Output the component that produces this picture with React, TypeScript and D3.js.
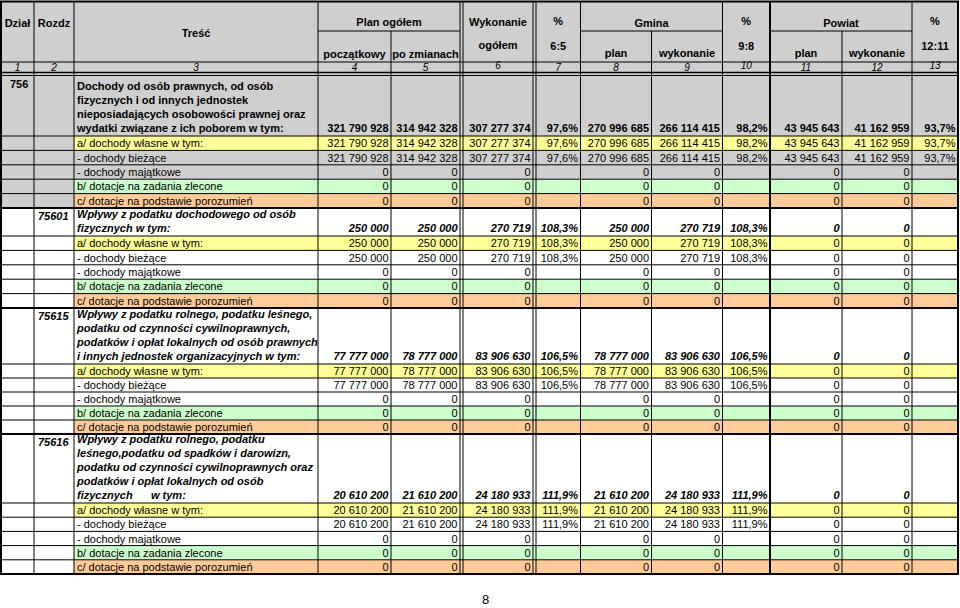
import React from 'react';
import * as d3 from 'd3';

// ---------- DATA ----------
const columnKeys = ['dzial', 'rozdz', 'tresc', 'planPocz', 'planZm', 'wyk', 'pct65', 'gPlan', 'gWyk', 'pct98', 'pPlan', 'pWyk', 'pct1211'];
const columnNumbers = ['1', '2', '3', '4', '5', '6', '7', '8', '9', '10', '11', '12', '13'];
const raisedNumbers = ['6', '10', '13'];

const sectionDzial = ['756', '', '', ''];
const sectionRozdz = ['', '75601', '75615', '75616'];
const sectionTitles = [
  ['Dochody od osób prawnych, od osób', 'fizycznych i od innych jednostek', 'nieposiadających osobowości prawnej oraz', 'wydatki związane z ich poborem w tym:'],
  ['Wpływy z podatku dochodowego od osób', 'fizycznych w tym:'],
  ['Wpływy z podatku rolnego, podatku leśnego,', 'podatku od czynności cywilnoprawnych,', 'podatków i opłat lokalnych od osób prawnych', 'i innych jednostek organizacyjnych w tym:'],
  ['Wpływy z podatku rolnego, podatku', 'leśnego,podatku od spadków i darowizn,', 'podatku od czynności cywilnoprawnych oraz', 'podatków i opłat lokalnych od osób', 'fizycznych      w tym:'],
];
const planPoczatkowy = [321790928, 250000, 77777000, 20610200];
const planPoZmianach = [314942328, 250000, 78777000, 21610200];
const wykonanieOgolem = [307277374, 270719, 83906630, 24180933];
const pct65 = [97.6, 108.3, 106.5, 111.9];
const gminaPlan = [270996685, 250000, 78777000, 21610200];
const gminaWykonanie = [266114415, 270719, 83906630, 24180933];
const pct98 = [98.2, 108.3, 106.5, 111.9];
const powiatPlan = [43945643, 0, 0, 0];
const powiatWykonanie = [41162959, 0, 0, 0];
const pct1211: (number | null)[] = [93.7, null, null, null];

const subRowLabels = ['a/ dochody własne w tym:', '- dochody bieżące', '- dochody majątkowe', 'b/ dotacje na zadania zlecone', 'c/ dotacje na podstawie porozumień'];
const dochodyMajatkowe = [0, 0, 0, 0];
const dotacjeZlecone = [0, 0, 0, 0];
const dotacjePorozumienia = [0, 0, 0, 0];
const pageNumber = '8';

// ---------- LAYOUT ----------
const W = 960;
const H = 608;
const FONT = '"Liberation Sans", Arial, Helvetica, sans-serif';
const GRAY = '#cfcfcf';
const subFills = ['#ffff99', null, null, '#ccffcc', '#ffcc99'];
const mainHeights = [60.5, 28, 56, 69];
const subHeights = [14.4, 14.4, 14, 14.2];
const edgeX = d3.scaleOrdinal<string, number>()
  .domain([...columnKeys, 'end'])
  .range([1, 34, 74, 318, 391, 461.5, 534.5, 580.5, 651.5, 722.5, 770, 842, 912, 958]);
const doubleEdges = ['wyk', 'pct65'];
const headerTop = 1.5, headerSplit = 31, numTop = 62, numBottom = 72.5, bodyTop = 75.5;

const loc = d3.formatLocale({ decimal: ',', thousands: ' ', grouping: [3], currency: ['', ''] });
const fmtInt = loc.format(',d');
const fmtDec = loc.format('.1f');
const fmtPct = (v: number | null) => (v == null ? '' : fmtDec(v) + '%');

function colRight(i: number) {
  const key = i + 1 < columnKeys.length ? columnKeys[i + 1] : 'end';
  const x = edgeX(key);
  return doubleEdges.includes(key) ? x - 1.5 : x;
}
function colLeft(i: number) {
  const key = columnKeys[i];
  const x = edgeX(key);
  return doubleEdges.includes(key) ? x + 1.5 : x;
}
function colCenter(i: number) {
  return (colLeft(i) + colRight(i)) / 2;
}

type Row = { top: number; h: number; kind: 'main' | 'sub'; s: number; sub: number; values: string[] };

function totals(s: number): string[] {
  return [
    fmtInt(planPoczatkowy[s]), fmtInt(planPoZmianach[s]), fmtInt(wykonanieOgolem[s]), fmtPct(pct65[s]),
    fmtInt(gminaPlan[s]), fmtInt(gminaWykonanie[s]), fmtPct(pct98[s]),
    fmtInt(powiatPlan[s]), fmtInt(powiatWykonanie[s]), fmtPct(pct1211[s]),
  ];
}
function zeros(v: number): string[] {
  const z = fmtInt(v);
  return [z, z, z, '', z, z, '', z, z, ''];
}

export default function App() {
  const rows: Row[] = [];
  let y = bodyTop;
  sectionTitles.forEach((_, s) => {
    rows.push({ top: y, h: mainHeights[s], kind: 'main', s, sub: -1, values: totals(s) });
    y += mainHeights[s];
    const subVals = [totals(s), totals(s), zeros(dochodyMajatkowe[s]), zeros(dotacjeZlecone[s]), zeros(dotacjePorozumienia[s])];
    subRowLabels.forEach((_, k) => {
      rows.push({ top: y, h: subHeights[s], kind: 'sub', s, sub: k, values: subVals[k] });
      y += subHeights[s];
    });
  });
  const bodyBottom = y;

  const cells: React.ReactNode[] = [];
  const texts: React.ReactNode[] = [];
  const lines: React.ReactNode[] = [];

  cells.push(<rect key="hdr" x={edgeX('dzial')} y={headerTop} width={edgeX('end') - edgeX('dzial')} height={bodyTop - headerTop} fill={GRAY} />);

  rows.forEach((r, ri) => {
    const base = r.s === 0 ? GRAY : '#ffffff';
    const sf = r.kind === 'sub' ? subFills[r.sub] : null;
    columnKeys.forEach((k, ci) => {
      const fill = sf && ci >= 2 ? sf : base;
      const x0 = edgeX(k);
      const x1 = edgeX(ci + 1 < columnKeys.length ? columnKeys[ci + 1] : 'end');
      cells.push(<rect key={`c${ri}-${ci}`} x={x0} y={r.top} width={x1 - x0} height={r.h} fill={fill} />);
    });
    const bottom = r.top + r.h;
    const isMain = r.kind === 'main';
    const italic = isMain && r.s > 0;
    const weight = isMain ? 'bold' : 'normal';
    const style = italic ? 'italic' : 'normal';
    if (isMain) {
      if (sectionDzial[r.s]) {
        texts.push(<text key={`d${ri}`} x={edgeX('dzial') + 9} y={r.top + 12} fontWeight="bold" fontSize={11}>{sectionDzial[r.s]}</text>);
      }
      if (sectionRozdz[r.s]) {
        texts.push(<text key={`r${ri}`} x={edgeX('rozdz') + 4} y={r.top + 12} fontWeight="bold" fontStyle="italic" fontSize={11}>{sectionRozdz[r.s]}</text>);
      }
      const tl = sectionTitles[r.s];
      tl.forEach((line, li) => {
        texts.push(
          <text key={`t${ri}-${li}`} x={edgeX('tresc') + 3} y={bottom - 4 - (tl.length - 1 - li) * 14}
            fontWeight="bold" fontStyle={style} fontSize={11} style={{ whiteSpace: 'pre' }}>{line}</text>
        );
      });
    } else {
      texts.push(<text key={`t${ri}`} x={edgeX('tresc') + 3} y={r.top + r.h / 2 + 4} fontSize={11}>{subRowLabels[r.sub]}</text>);
    }
    const vy = isMain ? bottom - 4 : r.top + r.h / 2 + 4;
    r.values.forEach((v, vi) => {
      if (!v) return;
      const ci = vi + 3;
      texts.push(
        <text key={`v${ri}-${vi}`} x={colRight(ci) - 2.5} y={vy} textAnchor="end"
          fontWeight={weight} fontStyle={style} fontSize={11}>{v}</text>
      );
    });
  });

  const hdr = (key: string, x: number, yy: number, t: string) => (
    <text key={key} x={x} y={yy} textAnchor="middle" fontWeight="bold" fontSize={11}>{t}</text>
  );
  texts.push(hdr('h1', colCenter(0), 27, 'Dział'));
  texts.push(hdr('h2', colCenter(1), 27, 'Rozdz'));
  texts.push(hdr('h3', colCenter(2), 36.5, 'Treść'));
  texts.push(hdr('h4', (colLeft(3) + colRight(4)) / 2, 26, 'Plan ogółem'));
  texts.push(hdr('h4a', colCenter(3), 57.5, 'początkowy'));
  texts.push(hdr('h4b', colCenter(4), 57.5, 'po zmianach'));
  texts.push(hdr('h6', colCenter(5), 26, 'Wykonanie'));
  texts.push(hdr('h6b', colCenter(5), 49, 'ogółem'));
  texts.push(hdr('h7', colCenter(6), 25, '%'));
  texts.push(hdr('h7b', colCenter(6), 49.5, '6:5'));
  texts.push(hdr('h8', (colLeft(7) + colRight(8)) / 2, 26.5, 'Gmina'));
  texts.push(hdr('h8a', colCenter(7), 57, 'plan'));
  texts.push(hdr('h8b', colCenter(8), 57, 'wykonanie'));
  texts.push(hdr('h10', colCenter(9), 25, '%'));
  texts.push(hdr('h10b', colCenter(9), 49.5, '9:8'));
  texts.push(hdr('h11', (colLeft(10) + colRight(11)) / 2, 26.5, 'Powiat'));
  texts.push(hdr('h11a', colCenter(10), 57, 'plan'));
  texts.push(hdr('h11b', colCenter(11), 57, 'wykonanie'));
  texts.push(hdr('h13', colCenter(12), 25, '%'));
  texts.push(hdr('h13b', colCenter(12), 49.5, '12:11'));
  columnNumbers.forEach((n, i) => {
    texts.push(
      <text key={`n${i}`} x={colCenter(i)} y={raisedNumbers.includes(n) ? 68.5 : 70.5} textAnchor="middle" fontStyle="italic" fontSize={10}>{n}</text>
    );
  });

  const L = (key: string, x1: number, y1: number, x2: number, y2: number, w = 1) => (
    <line key={key} x1={x1} y1={y1} x2={x2} y2={y2} stroke="#000" strokeWidth={w} />
  );
  const xL = edgeX('dzial');
  const xR = edgeX('end');
  lines.push(L('hs1', edgeX('planPocz'), headerSplit, edgeX('wyk') - 1.5, headerSplit));
  lines.push(L('hs2', edgeX('gPlan'), headerSplit, edgeX('pct98'), headerSplit));
  lines.push(L('hs3', edgeX('pPlan'), headerSplit, edgeX('pct1211'), headerSplit));
  lines.push(L('hn', xL, numTop, xR, numTop));
  lines.push(L('hb1', xL, numBottom, xR, numBottom, 1.5));
  lines.push(L('hb2', xL, bodyTop, xR, bodyTop));
  const partial = ['planZm', 'gWyk', 'pWyk'];
  columnKeys.forEach((k, i) => {
    if (i === 0) return;
    const x = edgeX(k);
    const top = partial.includes(k) ? headerSplit : headerTop;
    if (doubleEdges.includes(k)) {
      lines.push(L(`va${i}`, x - 1.5, top, x - 1.5, bodyBottom));
      lines.push(L(`vb${i}`, x + 1.5, top, x + 1.5, bodyBottom));
    } else {
      lines.push(L(`v${i}`, x, top, x, bodyBottom, k === 'pPlan' ? 2 : 1));
    }
  });
  rows.forEach((r, ri) => {
    if (ri === 0) return;
    lines.push(L(`rh${ri}`, xL, r.top, xR, r.top, r.kind === 'main' ? 1.8 : 1));
  });
  lines.push(<rect key="outer" x={xL} y={headerTop} width={xR - xL} height={bodyBottom - headerTop} fill="none" stroke="#000" strokeWidth={2} />);

  return (
    <svg width={W} height={H} viewBox={`0 0 ${W} ${H}`} style={{ position: 'absolute', left: 0, top: 0, background: '#fff' }}
      fontFamily={FONT}>
      <rect x={0} y={0} width={W} height={H} fill="#fff" />
      {cells}
      {lines}
      <g fill="#000">{texts}</g>
      <text x={482} y={604} fontSize={13} fontFamily={FONT}>{pageNumber}</text>
    </svg>
  );
}
